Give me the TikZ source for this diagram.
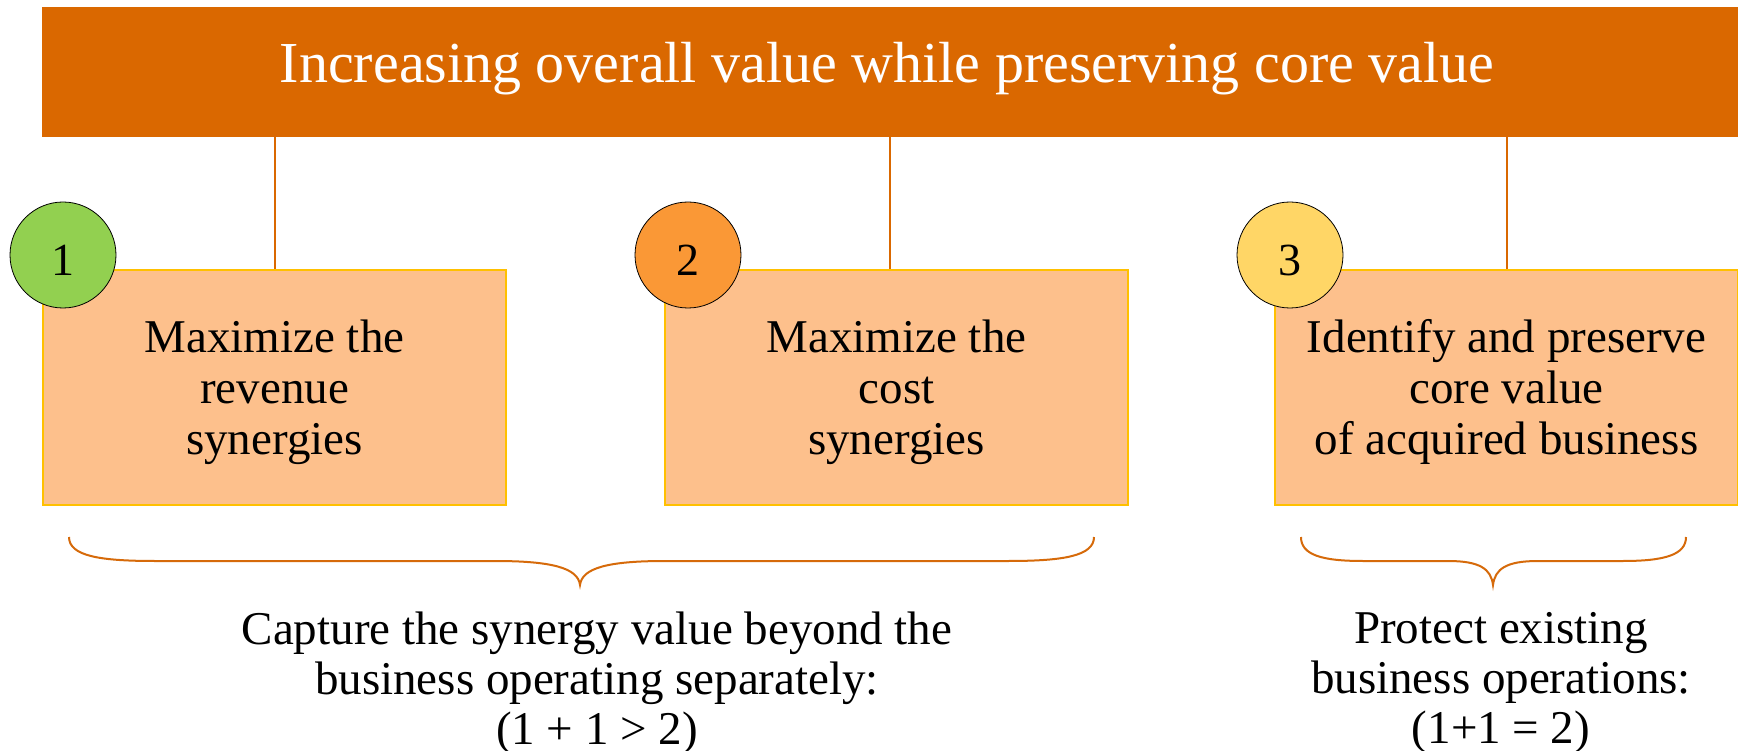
\documentclass[tikz,border=0pt]{standalone}
\usepackage{fontspec}
\setmainfont{Liberation Serif}
\definecolor{bannerc}{RGB}{218,104,0}
\definecolor{boxfill}{RGB}{253,192,140}
\definecolor{boxline}{RGB}{255,192,0}
\definecolor{cgreen}{RGB}{146,208,80}
\definecolor{corange}{RGB}{250,152,54}
\definecolor{cyellow}{RGB}{255,214,102}
\definecolor{bracec}{RGB}{214,106,10}
\tikzset{
  stepbox/.style={draw=boxline, line width=1.5pt, fill=boxfill, minimum width=463pt, minimum height=235pt, inner sep=0pt},
  boxtext/.style={align=center, font=\fontsize{47}{51}\selectfont, inner sep=0pt},
  numcirc/.style={circle, draw=black, line width=0.8pt, minimum size=106pt, inner sep=0pt, text height=42pt, text depth=0pt, font=\fontsize{46}{46}\selectfont},
  conn/.style={draw=bannerc, line width=2pt},
  bracestyle/.style={draw=bracec, line width=2pt},
  captext/.style={align=center, font=\fontsize{47}{50}\selectfont, inner sep=0pt}
}
\begin{document}
\begin{tikzpicture}[x=1pt,y=-1pt]
\useasboundingbox (0,0) rectangle (1738,751);
\fill[white] (0,0) rectangle (1738,751);
% banner
\node[fill=bannerc, minimum width=1696pt, minimum height=130pt, inner sep=0pt, anchor=north west] (banner) at (42,7) {};
\node[text=white, font=\fontsize{58}{58}\selectfont, anchor=base, inner sep=0pt] (title) at (887,83) {Increasing overall value while preserving core value};
% boxes
\node[stepbox] (box1) at (274.5,387.5) {};
\node[stepbox] (box2) at (896.5,387.5) {};
\node[stepbox] (box3) at (1506.5,387.5) {};
\node[boxtext] (t1) at (274.5,392) {Maximize the\\revenue\\synergies};
\node[boxtext] (t2) at (896.5,392) {Maximize the\\cost\\synergies};
\node[boxtext] (t3) at (1506.5,392) {Identify and preserve\\core value\\of acquired business};
% connectors
\coordinate (j2) at ([xshift=-6.5pt]box2.north);
\draw[conn] (banner.south -| box1.north) -- (box1.north);
\draw[conn] (banner.south -| j2) -- (j2);
\draw[conn] (banner.south -| box3.north) -- (box3.north);
% circles
\node[numcirc, fill=cgreen] (c1) at (63,255) {1};
\node[numcirc, fill=corange] (c2) at (688,255) {2};
\node[numcirc, fill=cyellow] (c3) at (1290,255) {3};
% braces
\draw[bracestyle] (69,537) .. controls (69,556) and (100,561) .. (155,561) -- (495,561) .. controls (552,561) and (578,568) .. (580,585) .. controls (582,568) and (608,561) .. (665,561) -- (1008,561) .. controls (1063,561) and (1094,556) .. (1094,537);
\draw[bracestyle] (1301,537) .. controls (1301,555) and (1322,561) .. (1363,561) -- (1448,561) .. controls (1480,561) and (1491,569) .. (1493,585) .. controls (1495,569) and (1506,561) .. (1538,561) -- (1623,561) .. controls (1664,561) and (1686,555) .. (1686,537);
% captions
\node[captext] (cap1) at (597,683) {Capture the synergy value beyond the\\business operating separately:\\(1 + 1 {\char"003E} 2)};
\node[captext] (cap2) at (1501,683) {Protect existing\\business operations:\\(1+1 = 2)};
\end{tikzpicture}
\end{document}
